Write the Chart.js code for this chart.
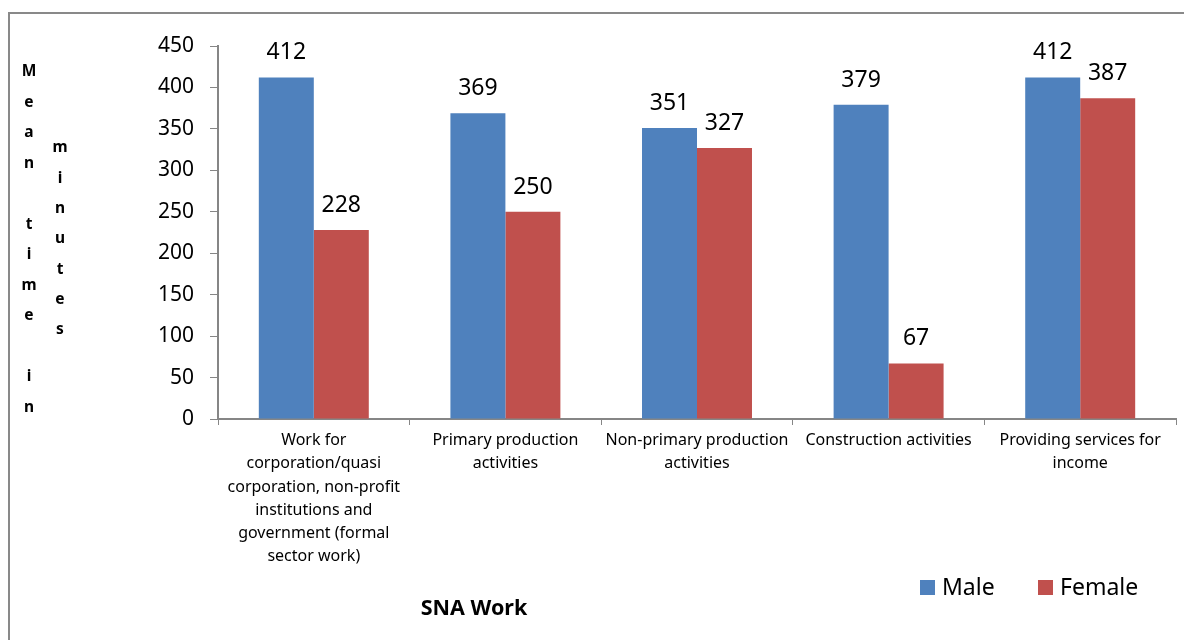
<!DOCTYPE html>
<html>
<head>
<meta charset="utf-8">
<script src="https://cdn.jsdelivr.net/npm/chart.js@4.4.1/dist/chart.umd.min.js"></script>
<style>
  html, body { margin: 0; padding: 0; background: #fff; }
  #wrap { position: relative; width: 1184px; height: 640px; overflow: hidden; }
  #frame { position: absolute; left: 8px; top: 12px; width: 1300px; height: 800px;
           border-top: 2px solid #898989; border-left: 2px solid #898989; box-sizing: border-box; }
  #c { position: absolute; left: 0; top: 0; }
</style>
</head>
<body>
<div id="wrap">
  <div id="frame"></div>
  <canvas id="c" width="1184" height="640"></canvas>
</div>
<script>
// SNA work: mean time spent (minutes) by sex
const categories = [
  ['Work for', 'corporation/quasi', 'corporation, non-profit', 'institutions and', 'government (formal', 'sector work)'],
  ['Primary production', 'activities'],
  ['Non-primary production', 'activities'],
  ['Construction activities'],
  ['Providing services for', 'income']
];
const maleMinutes = [412, 369, 351, 379, 412];
const femaleMinutes = [228, 250, 327, 67, 387];
const yTicks = [0, 50, 100, 150, 200, 250, 300, 350, 400, 450];
const seriesNames = ['Male', 'Female'];
const yTitleLeft = 'Mean time in';
const yTitleRight = 'minutes';
const xTitle = 'SNA Work';

const FONT = "'Noto Sans', 'Open Sans', sans-serif";
const MALE = '#4F81BD';
const FEMALE = '#C0504D';
const AXIS = '#868686';

const extras = {
  id: 'extras',
  afterDatasetsDraw(chart) {
    const ctx = chart.ctx;
    ctx.save();
    // value labels above each bar
    ctx.fillStyle = '#000';
    ctx.font = '23px ' + FONT;
    ctx.textAlign = 'center';
    ctx.textBaseline = 'alphabetic';
    chart.data.datasets.forEach((ds, i) => {
      chart.getDatasetMeta(i).data.forEach((bar, j) => {
        ctx.fillText(String(ds.data[j]), bar.x, bar.y - 18);
      });
    });
    ctx.restore();
  },
  afterDraw(chart) {
    const ctx = chart.ctx;
    ctx.save();
    // stacked-letter axis title
    ctx.fillStyle = '#000';
    ctx.font = 'bold 15.5px ' + FONT;
    ctx.textAlign = 'center';
    ctx.textBaseline = 'middle';
    [...yTitleLeft].forEach((ch, k) => {
      if (ch !== ' ') ctx.fillText(ch, 29, 72 + k * 30.5);
    });
    [...yTitleRight].forEach((ch, k) => {
      ctx.fillText(ch, 60, 148 + k * 30.3);
    });
    // category axis title
    ctx.font = 'bold 21.5px ' + FONT;
    ctx.fillText(xTitle, 474, 609);
    // legend
    const items = [[seriesNames[0], MALE, 920], [seriesNames[1], FEMALE, 1038]];
    ctx.font = '23px ' + FONT;
    ctx.textAlign = 'left';
    items.forEach(([name, col, x]) => {
      ctx.fillStyle = col;
      ctx.fillRect(x, 580, 15, 15);
      ctx.fillStyle = '#000';
      ctx.fillText(name, x + 22, 588);
    });
    ctx.restore();
  }
};

new Chart(document.getElementById('c'), {
  type: 'bar',
  data: {
    labels: categories,
    datasets: [
      { label: seriesNames[0], data: maleMinutes, backgroundColor: MALE },
      { label: seriesNames[1], data: femaleMinutes, backgroundColor: FEMALE }
    ]
  },
  options: {
    responsive: false,
    animation: false,
    devicePixelRatio: 1,
    categoryPercentage: 0.574,
    barPercentage: 1,
    layout: { padding: { top: 46, right: 8, bottom: 0, left: 0 } },
    plugins: { legend: { display: false }, tooltip: { enabled: false } },
    scales: {
      x: {
        grid: { offset: true, drawOnChartArea: false, drawTicks: true, tickLength: 6, color: AXIS },
        border: { color: AXIS, width: 2 },
        ticks: { color: '#000', font: { family: FONT, size: 16, lineHeight: 1.45 }, maxRotation: 0, autoSkip: false, padding: 4 },
        afterFit(s) { s.height = 221; }
      },
      y: {
        min: 0, max: 450,
        afterBuildTicks(s) { s.ticks = yTicks.map(v => ({ value: v })); },
        grid: { drawOnChartArea: false, drawTicks: true, tickLength: 8, color: AXIS },
        border: { color: AXIS, width: 2 },
        ticks: { color: '#000', font: { family: FONT, size: 21 }, padding: 16 },
        afterFit(s) { s.width = 218; }
      }
    }
  },
  plugins: [extras]
});
</script>
</body>
</html>
